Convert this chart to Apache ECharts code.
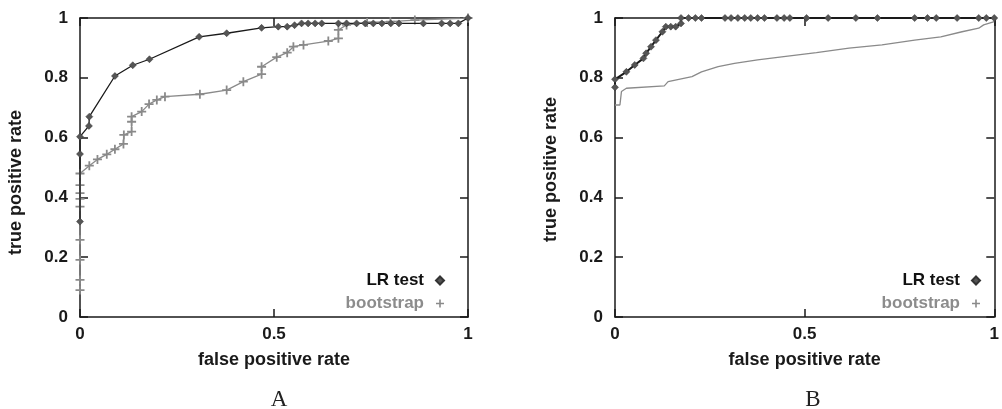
<!DOCTYPE html>
<html lang="en">
<head>
  <meta charset="UTF-8">
  <title>ROC curves</title>
  <script src="https://cdn.jsdelivr.net/npm/echarts@6/dist/echarts.min.js"></script>
  <style>
    html, body { margin: 0; padding: 0; background: #fff; }
    #roc { width: 1002px; height: 409px; }
  </style>
</head>
<body>
<div id="roc"></div>
<script>
  // 数据：[false positive rate, true positive rate]
  var xTicks = [0, 0.5, 1];
  var yTicks = [0, 0.2, 0.4, 0.6, 0.8, 1];
  var panelNames = ['A', 'B'];
  var seriesNames = ['LR test', 'bootstrap'];

  var lrA = [[0,0.319],[0,0.545],[0,0.603],[0.023,0.639],[0.024,0.67],[0.09,0.806],[0.136,0.842],
    [0.179,0.862],[0.307,0.937],[0.378,0.949],[0.468,0.967],[0.511,0.971],[0.534,0.971],[0.553,0.976],
    [0.571,0.982],[0.588,0.982],[0.606,0.982],[0.623,0.982],[0.666,0.982],[0.687,0.982],[0.713,0.982],
    [0.735,0.982],[0.756,0.982],[0.778,0.982],[0.801,0.982],[0.822,0.982],[0.885,0.982],[0.932,0.982],
    [0.954,0.982],[0.975,0.982],[1,1]];
  var bootA = [[0,0.09],[0,0.124],[0,0.191],[0,0.258],[0,0.369],[0,0.395],[0,0.414],[0,0.441],[0,0.48],
    [0.024,0.506],[0.045,0.527],[0.069,0.544],[0.09,0.561],[0.112,0.579],[0.113,0.609],[0.133,0.62],
    [0.133,0.653],[0.133,0.67],[0.159,0.687],[0.178,0.712],[0.198,0.726],[0.219,0.737],[0.309,0.745],
    [0.378,0.759],[0.421,0.787],[0.468,0.812],[0.468,0.837],[0.507,0.869],[0.534,0.884],[0.55,0.904],
    [0.576,0.91],[0.64,0.923],[0.666,0.932],[0.666,0.96],[0.687,0.977],[0.74,0.985],[0.8,0.988],
    [0.863,0.993],[1,1]];
  var lrB = [[0,0.768],[0,0.795],[0.03,0.82],[0.052,0.843],[0.075,0.865],[0.082,0.882],[0.095,0.904],
    [0.108,0.926],[0.125,0.954],[0.134,0.971],[0.147,0.971],[0.16,0.971],[0.174,0.982],[0.174,1],
    [0.194,1],[0.212,1],[0.228,1],[0.29,1],[0.306,1],[0.324,1],[0.342,1],[0.358,1],[0.376,1],[0.394,1],
    [0.427,1],[0.446,1],[0.461,1],[0.505,1],[0.562,1],[0.635,1],[0.692,1],[0.79,1],[0.824,1],[0.847,1],
    [0.902,1],[0.959,1],[0.979,1],[1,1]];
  var bootB = [[0,0.709],[0.013,0.709],[0.017,0.754],[0.03,0.765],[0.13,0.773],[0.14,0.787],[0.203,0.804],
    [0.228,0.82],[0.272,0.837],[0.315,0.848],[0.376,0.86],[0.445,0.871],[0.531,0.884],[0.617,0.899],
    [0.704,0.91],[0.79,0.926],[0.859,0.937],[0.915,0.954],[0.959,0.966],[0.972,0.977],[1,0.988]];

  var font = 'Liberation Sans, Arial, sans-serif';
  var dark = '#1a1a1a';
  var grey = '#8c8c8c';
  var plusIcon = 'path://M4,0h2v10h-2zM0,4h10v2h-10z';

  var grids = [
    {left: 80, right: 534, top: 18, bottom: 92},
    {left: 615, right: 1, top: 18, bottom: 92}
  ];

  function xAxisPair(gi) {
    var bottom = {
      gridIndex: gi, type: 'value', min: 0, max: 1, interval: 0.5, position: 'bottom',
      axisLine: {onZero: false, lineStyle: {color: dark, width: 1.5}},
      axisTick: {inside: true, length: 8, lineStyle: {color: dark, width: 1.5}},
      axisLabel: {color: dark, fontFamily: font, fontWeight: 'bold', fontSize: 17, margin: 9,
        formatter: function (v) { return xTicks.indexOf(v) >= 0 ? String(v) : ''; }},
      splitLine: {show: false},
      name: 'false positive rate', nameLocation: 'middle', nameGap: 34,
      nameTextStyle: {color: dark, fontFamily: font, fontWeight: 'bold', fontSize: 18}
    };
    var top = {
      gridIndex: gi, type: 'value', min: 0, max: 1, interval: 0.5, position: 'top',
      axisLine: {onZero: false, lineStyle: {color: dark, width: 1.5}},
      axisTick: {inside: true, length: 8, lineStyle: {color: dark, width: 1.5}},
      axisLabel: {show: false}, splitLine: {show: false}
    };
    return [bottom, top];
  }

  function yAxisPair(gi, pad) {
    var left = {
      gridIndex: gi, type: 'value', min: 0, max: 1, interval: 0.2, position: 'left',
      axisLine: {show: true, onZero: false, lineStyle: {color: dark, width: 1.5}},
      axisTick: {show: true, inside: true, length: 8, lineStyle: {color: dark, width: 1.5}},
      axisLabel: {color: dark, fontFamily: font, fontWeight: 'bold', fontSize: 17, margin: 12,
        formatter: function (v) { return String(Math.round(v * 10) / 10); }},
      splitLine: {show: false},
      name: 'true positive rate', nameLocation: 'middle', nameGap: 55,
      nameTextStyle: {color: dark, fontFamily: font, fontWeight: 'bold', fontSize: 18, padding: [0, pad, 0, 0]}
    };
    var right = {
      gridIndex: gi, type: 'value', min: 0, max: 1, interval: 0.2, position: 'right',
      axisLine: {show: true, onZero: false, lineStyle: {color: dark, width: 1.5}},
      axisTick: {show: true, inside: true, length: 8, lineStyle: {color: dark, width: 1.5}},
      axisLabel: {show: false}, splitLine: {show: false}
    };
    return [left, right];
  }

  function lrSeries(data, gi, lineWidth) {
    return {
      name: seriesNames[0], type: 'line', data: data,
      xAxisIndex: gi * 2, yAxisIndex: gi * 2,
      symbol: 'diamond', symbolSize: 7, showAllSymbol: true,
      lineStyle: {color: '#1a1a1a', width: lineWidth},
      itemStyle: {color: '#555', borderColor: '#333', borderWidth: 0.5},
      z: 3, animation: false
    };
  }

  function bootSeries(data, gi, withMarks) {
    return {
      name: seriesNames[1], type: 'line', data: data,
      xAxisIndex: gi * 2, yAxisIndex: gi * 2,
      symbol: withMarks ? plusIcon : 'none', symbolSize: 9, showAllSymbol: true,
      lineStyle: {color: '#8a8a8a', width: 1.3},
      itemStyle: {color: '#8a8a8a'},
      z: 2, animation: false
    };
  }

  function legendFor(right) {
    return {
      orient: 'vertical', right: right, top: 267, align: 'right',
      itemWidth: 8, itemHeight: 8, itemGap: 6, selectedMode: false,
      textStyle: {fontFamily: font, fontWeight: 'bold', fontSize: 17, lineHeight: 17, padding: [0, 7, 0, 0]},
      data: [
        {name: seriesNames[0], icon: 'diamond', textStyle: {color: '#111'}},
        {name: seriesNames[1], icon: plusIcon, textStyle: {color: grey}}
      ]
    };
  }

  var xs = xAxisPair(0).concat(xAxisPair(1));
  var ys = yAxisPair(0, 30).concat(yAxisPair(1, 4));

  var myChart = echarts.init(document.getElementById('roc'));
  var option = {
    animation: false,
    title: [
      {text: panelNames[0], left: 274, top: 383, textAlign: 'center',
        textStyle: {fontFamily: 'Liberation Serif, serif', fontWeight: 'normal', fontSize: 23, color: '#222'}},
      {text: panelNames[1], left: 808, top: 383, textAlign: 'center',
        textStyle: {fontFamily: 'Liberation Serif, serif', fontWeight: 'normal', fontSize: 23, color: '#222'}}
    ],
    grid: grids,
    legend: [legendFor(552), legendFor(16)],
    xAxis: xs,
    yAxis: ys,
    series: [
      bootSeries(bootA, 0, true),
      lrSeries(lrA, 0, 1.3),
      bootSeries(bootB, 1, false),
      lrSeries(lrB, 1, 2)
    ]
  };
  option && myChart.setOption(option);
</script>
</body>
</html>
